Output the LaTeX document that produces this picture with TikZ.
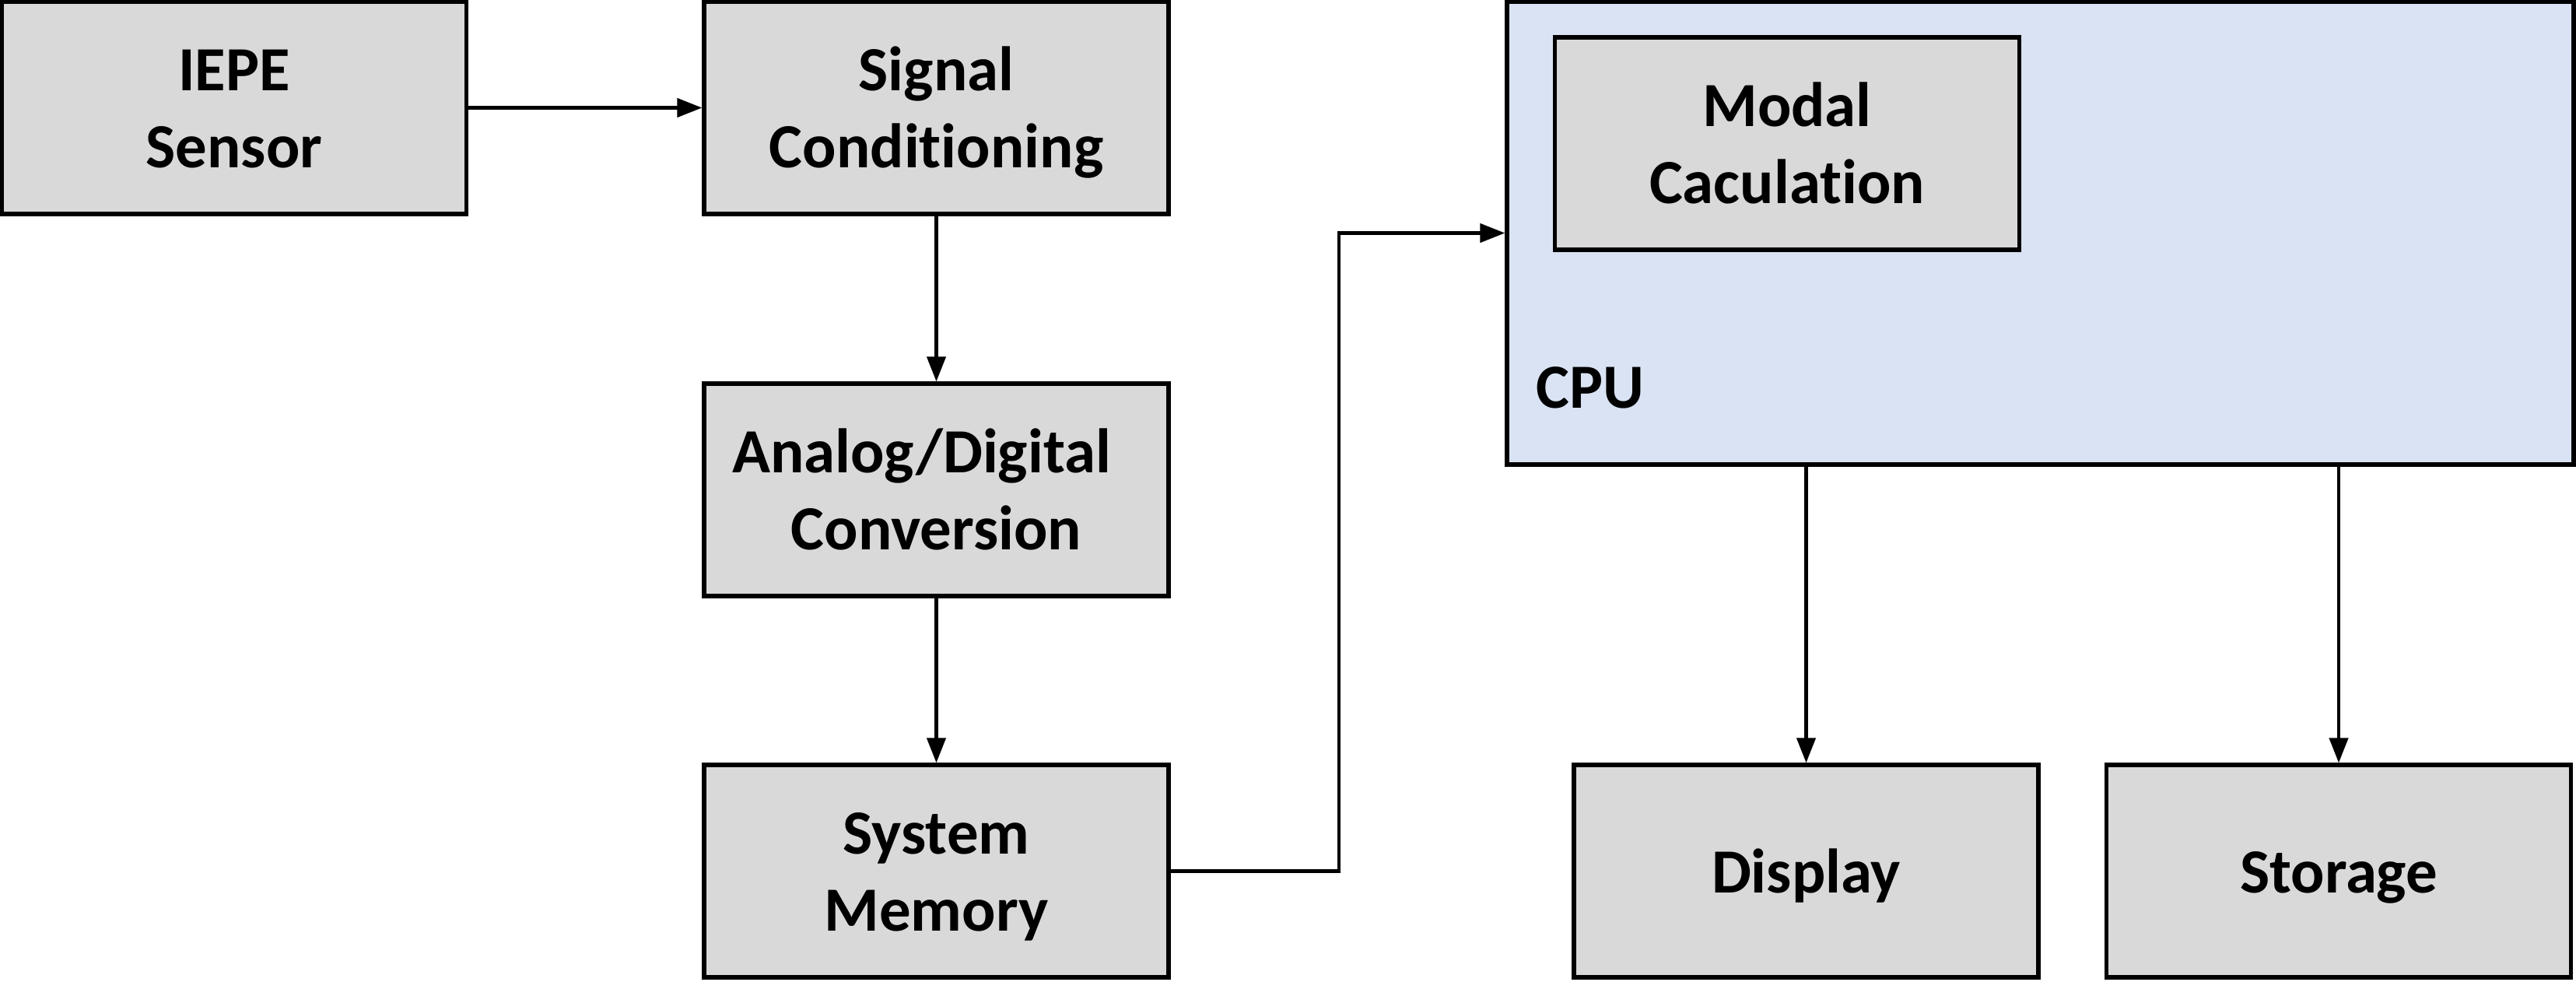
\documentclass[tikz,border=0pt]{standalone}
\usepackage{fontspec}
\setmainfont{Carlito}[Ligatures=NoCommon]
\usepackage{xcolor}
\usetikzlibrary{arrows.meta}

\definecolor{boxgray}{HTML}{D9D9D9}
\definecolor{cpublue}{HTML}{DAE3F3}

% puntal para fijar la altura del texto en los bloques
\newcommand{\bstrut}{\rule[-0.2cm]{0pt}{0.95cm}}
% corta la ligadura "ti" de Carlito
\newcommand{\nolig}{\kern0pt}

\tikzset{
  block/.style={draw, line width=1.5pt, fill=boxgray, minimum width=5.97cm,
    minimum height=2.73cm, align=center, inner sep=0pt,
    font=\fontsize{23}{28}\selectfont\bfseries},
  cpubox/.style={draw, line width=1.5pt, fill=cpublue, minimum width=13.71cm,
    minimum height=5.95cm, inner sep=0pt},
  flow/.style={line width=1.2pt, -{Triangle[length=0.32cm,width=0.24cm]}}
}

\begin{document}
\begin{tikzpicture}
            \useasboundingbox (0,0) rectangle (33.11,-12.70);

            % Bloques de la cadena de adquisicion
            \node[block] (iepe) at (3.01,-1.385) {\bstrut IEPE\\Sensor\bstrut};
            \node[block] (signal) at (12.035,-1.385) {\bstrut Signal\\Condit\nolig ioning\bstrut};
            \node[block] (adc) at (12.035,-6.295) {\bstrut Analog/Digital\hspace*{0.38cm}\\Conversion\bstrut};
            \node[block] (memory) at (12.035,-11.195) {\bstrut System\\Memory\bstrut};

            % Procesador con el bloque interno
            \node[cpubox] (cpu) at (26.225,-2.995) {};
            \node[block] (modal) at (22.97,-1.845) {\bstrut Modal\\Caculat\nolig ion\bstrut};
            \node[anchor=west, font=\fontsize{23}{28}\selectfont\bfseries] (cpulabel) at (19.62,-4.98) {CPU};

            % Salidas
            \node[block] (display) at (23.215,-11.195) {\bstrut Display};
            \node[block] (storage) at (30.06,-11.195) {\bstrut Storage};

            % Conexiones
            \coordinate (bend) at (17.21,-2.995);
            \draw[flow] (iepe.east) -- (signal.west);
            \draw[flow] (signal.south) -- (adc.north);
            \draw[flow] (adc.south) -- (memory.north);
            \draw[flow] (memory.east) -| (bend) -- (cpu.west);
            \draw[flow] (display.north |- cpu.south) -- (display.north);
            \draw[flow] (storage.north |- cpu.south) -- (storage.north);
        \end{tikzpicture}
\end{document}
